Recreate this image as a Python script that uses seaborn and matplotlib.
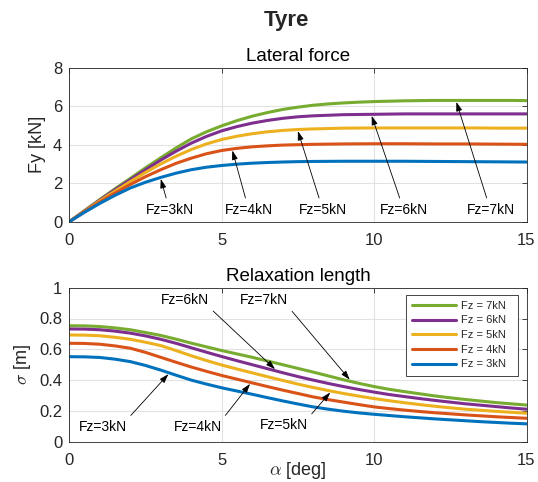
import numpy as np
import pandas as pd
import seaborn as sns
import matplotlib
matplotlib.use('Agg')
import matplotlib.pyplot as plt
from matplotlib.ticker import FuncFormatter

# slip angle [deg]
alpha = [0, 0.5, 1, 1.5, 2, 2.5, 3, 3.5, 4, 4.5, 5, 5.5, 6, 6.5, 7, 7.5,
         8, 8.5, 9, 9.5, 10, 10.5, 11, 11.5, 12, 12.5, 13, 13.5, 14, 14.5, 15]
loads = ['Fz = 7kN', 'Fz = 6kN', 'Fz = 5kN', 'Fz = 4kN', 'Fz = 3kN']

# lateral force Fy [kN]
fy_7 = [0, 0.58, 1.15, 1.71, 2.25, 2.80, 3.32, 3.83, 4.30, 4.67, 4.98, 5.25, 5.48, 5.67, 5.83, 5.95,
        6.05, 6.12, 6.17, 6.21, 6.24, 6.26, 6.28, 6.29, 6.30, 6.30, 6.30, 6.30, 6.30, 6.30, 6.29]
fy_6 = [0, 0.56, 1.12, 1.66, 2.18, 2.70, 3.20, 3.66, 4.08, 4.43, 4.72, 4.94, 5.12, 5.26, 5.37, 5.45,
        5.50, 5.53, 5.56, 5.57, 5.58, 5.59, 5.60, 5.60, 5.60, 5.60, 5.60, 5.60, 5.60, 5.60, 5.60]
fy_5 = [0, 0.54, 1.08, 1.59, 2.08, 2.56, 3.00, 3.40, 3.75, 4.04, 4.27, 4.44, 4.57, 4.67, 4.74, 4.79,
        4.82, 4.84, 4.86, 4.865, 4.87, 4.87, 4.87, 4.87, 4.87, 4.87, 4.87, 4.87, 4.86, 4.86, 4.86]
fy_4 = [0, 0.52, 1.02, 1.49, 1.93, 2.34, 2.70, 3.03, 3.30, 3.53, 3.70, 3.81, 3.89, 3.94, 3.98, 4.00,
        4.02, 4.03, 4.04, 4.045, 4.05, 4.05, 4.05, 4.045, 4.04, 4.04, 4.04, 4.035, 4.03, 4.025, 4.02]
fy_3 = [0, 0.49, 0.95, 1.37, 1.75, 2.05, 2.30, 2.52, 2.70, 2.83, 2.92, 2.99, 3.04, 3.075, 3.10, 3.12,
        3.13, 3.135, 3.14, 3.14, 3.14, 3.14, 3.14, 3.135, 3.13, 3.125, 3.12, 3.115, 3.11, 3.105, 3.10]

# relaxation length sigma [m]
sig_7 = [0.753, 0.752, 0.748, 0.739, 0.727, 0.709, 0.690, 0.666, 0.640, 0.616, 0.592, 0.570, 0.548,
         0.524, 0.500, 0.476, 0.452, 0.427, 0.402, 0.379, 0.358, 0.340, 0.325, 0.311, 0.297, 0.285,
         0.274, 0.264, 0.254, 0.246, 0.238]
sig_6 = [0.732, 0.731, 0.727, 0.718, 0.705, 0.687, 0.665, 0.639, 0.610, 0.581, 0.553, 0.526, 0.500,
         0.474, 0.448, 0.423, 0.400, 0.378, 0.358, 0.339, 0.322, 0.306, 0.293, 0.280, 0.268, 0.257,
         0.246, 0.237, 0.228, 0.219, 0.211]
sig_5 = [0.693, 0.692, 0.688, 0.678, 0.665, 0.646, 0.624, 0.592, 0.558, 0.527, 0.498, 0.472, 0.447,
         0.422, 0.398, 0.374, 0.352, 0.332, 0.313, 0.296, 0.280, 0.266, 0.253, 0.241, 0.230, 0.220,
         0.211, 0.204, 0.197, 0.191, 0.185]
sig_4 = [0.639, 0.638, 0.633, 0.622, 0.607, 0.580, 0.548, 0.516, 0.485, 0.457, 0.430, 0.406, 0.382,
         0.358, 0.335, 0.313, 0.291, 0.273, 0.257, 0.241, 0.226, 0.215, 0.205, 0.196, 0.188, 0.181,
         0.174, 0.168, 0.162, 0.157, 0.152]
sig_3 = [0.552, 0.551, 0.547, 0.536, 0.520, 0.495, 0.465, 0.432, 0.400, 0.374, 0.350, 0.329, 0.308,
         0.286, 0.265, 0.245, 0.226, 0.211, 0.198, 0.187, 0.178, 0.170, 0.162, 0.155, 0.148, 0.142,
         0.136, 0.130, 0.125, 0.120, 0.116]

colors = ['#77AC30', '#7E2F8E', '#EDB120', '#D95319', '#0072BD']

fy_all = [fy_7, fy_6, fy_5, fy_4, fy_3]
sig_all = [sig_7, sig_6, sig_5, sig_4, sig_3]
df = pd.DataFrame({
    'alpha': alpha * len(loads),
    'Fz': np.repeat(loads, len(alpha)),
    'Fy': np.concatenate(fy_all),
    'sigma': np.concatenate(sig_all),
})

sns.set_theme(style='whitegrid')
plt.rcParams['font.family'] = ['Liberation Sans', 'DejaVu Sans']
plt.rcParams['mathtext.fontset'] = 'cm'

dark = '#262626'
fig = plt.figure(figsize=(5.38, 4.82), dpi=100)
ax1 = fig.add_axes([69.3 / 538, 1 - 221.7 / 482, 457.2 / 538, 154 / 482])
ax2 = fig.add_axes([69.3 / 538, 1 - 441.7 / 482, 457.2 / 538, 154 / 482])

pal = dict(zip(loads, colors))
sns.lineplot(data=df, x='alpha', y='Fy', hue='Fz', hue_order=loads, palette=pal,
             lw=2.2, ax=ax1, legend=False)
sns.lineplot(data=df, x='alpha', y='sigma', hue='Fz', hue_order=loads, palette=pal,
             lw=2.2, ax=ax2)


def style(ax):
    ax.set_xlim(0, 15)
    ax.set_xticks([0, 5, 10, 15])
    ax.grid(True, color='#e2e2e2', lw=0.8)
    ax.set_facecolor('white')
    ax.tick_params(direction='in', top=True, right=True, length=3.5, width=0.6,
                   colors=dark, labelsize=12)
    ax.tick_params(axis='x', pad=8)
    ax.tick_params(axis='y', pad=5)
    for s in ax.spines.values():
        s.set_visible(True)
        s.set_color(dark)
        s.set_linewidth(0.6)
    ax.yaxis.set_major_formatter(FuncFormatter(lambda v, p: '%g' % v))


style(ax1)
style(ax2)
ax1.set_ylim(0, 8)
ax1.set_yticks([0, 2, 4, 6, 8])
ax2.set_ylim(0, 1)
ax2.set_yticks([0, 0.2, 0.4, 0.6, 0.8, 1])

ax1.set_xlabel('')
ax1.set_ylabel('Fy [kN]', fontsize=13, color=dark)
ax1.yaxis.set_label_coords(-0.051, 0.5)
ax2.set_ylabel(r'$\sigma$ [m]', fontsize=13, color=dark)
ax2.yaxis.set_label_coords(-0.080, 0.5)
ax2.set_xlabel(r'$\alpha$ [deg]', fontsize=13, color=dark)
ax2.xaxis.set_label_coords(0.5, -0.12)

ax1.set_title('Lateral force', fontsize=13.5, color='black', pad=5)
ax2.set_title('Relaxation length', fontsize=13.5, color='black', pad=5)
fig.text(0.533, 0.947, 'Tyre', fontsize=16, fontweight='bold', ha='center', va='baseline')

# annotations: label, text position, tip x, series
arrow_kw = dict(arrowstyle='-|>,head_length=0.55,head_width=0.18', color='black',
                lw=0.6, shrinkA=1, shrinkB=0)
top_notes = [
    ('Fz=3kN', (3.3, 0.63), 3.0, fy_3),
    ('Fz=4kN', (5.9, 0.63), 5.35, fy_4),
    ('Fz=5kN', (8.32, 0.63), 7.5, fy_5),
    ('Fz=6kN', (10.97, 0.63), 9.92, fy_6),
    ('Fz=7kN', (13.82, 0.63), 12.7, fy_7),
]
for lab, txy, tx, ser in top_notes:
    ty = np.interp(tx, alpha, ser) - 0.08
    ax1.annotate(lab, xy=(tx, ty), xytext=txy, ha='center', va='center', fontsize=10,
                 color='black', arrowprops=dict(relpos=(0.45, 1), **arrow_kw))

bottom_notes = [
    ('Fz=3kN', (1.1, 0.097), 3.25, sig_3, (1, 1)),
    ('Fz=4kN', (4.22, 0.097), 5.93, sig_4, (1, 1)),
    ('Fz=5kN', (7.04, 0.107), 8.56, sig_5, (1, 1)),
    ('Fz=6kN', (3.79, 0.92), 6.75, sig_6, (1, 0)),
    ('Fz=7kN', (6.4, 0.92), 9.2, sig_7, (1, 0)),
]
for lab, txy, tx, ser, rp in bottom_notes:
    off = -0.01 if rp[1] == 1 else 0.01
    ty = np.interp(tx, alpha, ser) + off
    ax2.annotate(lab, xy=(tx, ty), xytext=txy, ha='center', va='center', fontsize=10,
                 color='black', arrowprops=dict(relpos=rp, **arrow_kw))

leg = ax2.legend(loc='upper left', bbox_to_anchor=(0.737, 0, 0.245, 0.955), mode='expand',
                 borderaxespad=0, fontsize=8, frameon=True, fancybox=False, framealpha=1,
                 edgecolor=dark, handlelength=3.9, handletextpad=0.5, labelspacing=0.42,
                 borderpad=0.55, title=None)
leg.get_frame().set_linewidth(0.6)
for line in leg.get_lines():
    line.set_linewidth(2.2)

fig.savefig('out.png', dpi=100)
